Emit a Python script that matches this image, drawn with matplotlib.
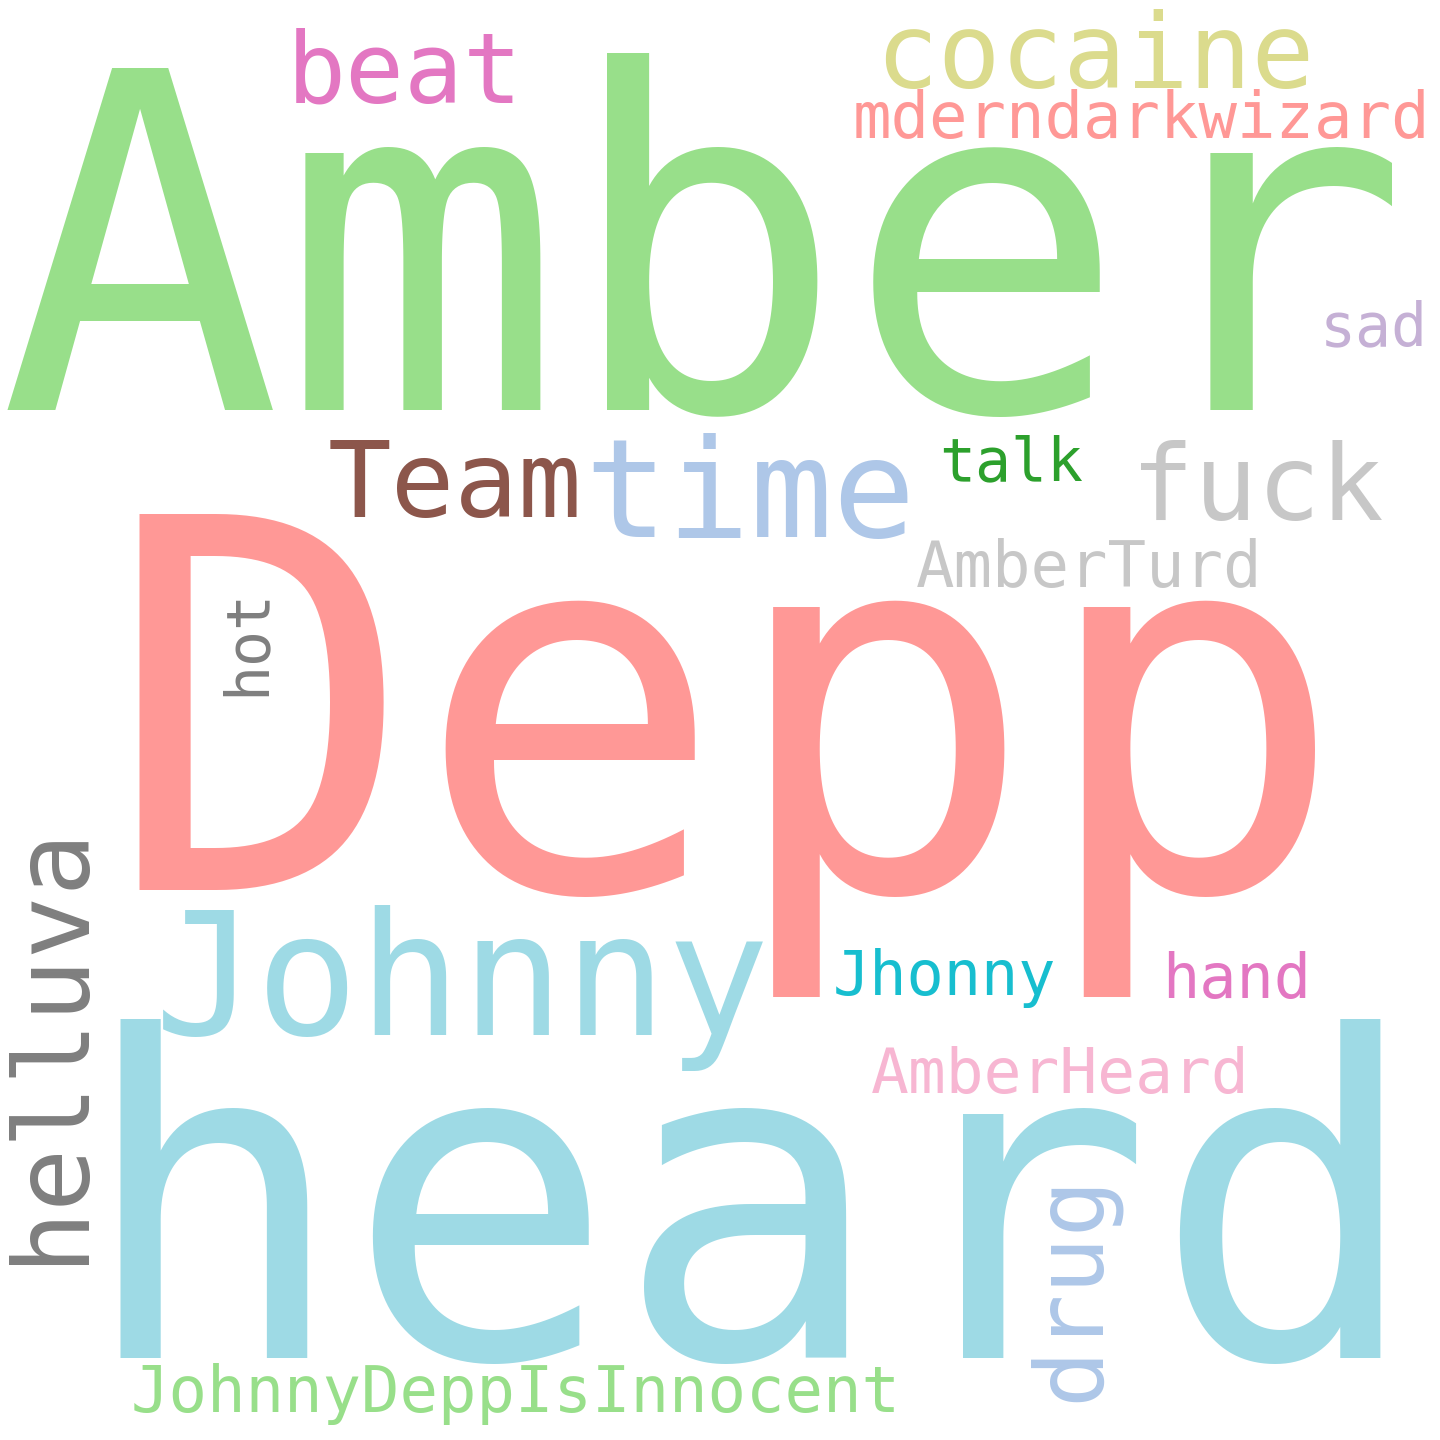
import matplotlib
matplotlib.use("Agg")
import matplotlib.pyplot as plt

# word cloud data: words, relative weight (1.0 = biggest word), colour
words = ["Depp", "Amber", "heard", "Johnny", "time", "Team", "fuck", "helluva",
         "cocaine", "beat", "drug", "AmberHeard", "JohnnyDeppIsInnocent",
         "mderndarkwizard", "AmberTurd", "Jhonny", "hand", "sad", "talk", "hot"]
weights = [1.0, 0.909, 0.866, 0.331, 0.267, 0.205, 0.203, 0.203,
           0.202, 0.19, 0.184, 0.122, 0.124,
           0.124, 0.124, 0.12, 0.12, 0.116, 0.116, 0.116]
colors = ["#ff9896", "#98df8a", "#9edae5", "#9edae5", "#aec7e8", "#8c564b", "#c7c7c7", "#7f7f7f",
          "#dbdb8d", "#e377c2", "#aec7e8", "#f7b6d2", "#98df8a",
          "#ff9896", "#c7c7c7", "#17becf", "#e377c2", "#c5b0d5", "#2ca02c", "#7f7f7f"]

# layout: centre x, baseline y (pixels from top-left), rotation
layout = {
    "Depp": (726, 890, 0),
    "Amber": (704, 410, 0),
    "heard": (750, 1358, 0),
    "Johnny": (462, 1035, 0),
    "time": (750, 537, 0),
    "Team": (455, 517, 0),
    "fuck": (1257, 520, 0),
    "helluva": (80, 1043, 90),
    "cocaine": (1095, 88, 0),
    "beat": (405, 103, 0),
    "drug": (1098, 1287, 90),
    "AmberHeard": (1060, 1093, 0),
    "JohnnyDeppIsInnocent": (516, 1412, 0),
    "mderndarkwizard": (1141, 138, 0),
    "AmberTurd": (1089, 587, 0),
    "Jhonny": (944, 995, 0),
    "hand": (1237, 998, 0),
    "sad": (1374, 345, 0),
    "talk": (1011, 480, 0),
    "hot": (264, 642, 90),
}

W = H = 1440
DPI = 100
max_font_px = 516

fig = plt.figure(figsize=(W / DPI, H / DPI), dpi=DPI, facecolor="white")
ax = fig.add_axes([0, 0, 1, 1])
ax.set_xlim(0, W)
ax.set_ylim(H, 0)
ax.axis("off")

for w, wt, c in zip(words, weights, colors):
    x, y, rot = layout[w]
    size_pt = wt * max_font_px * 72 / DPI
    if rot == 0:
        ax.text(x, y, w, fontsize=size_pt, color=c, family="DejaVu Sans Mono",
                ha="center", va="baseline")
    else:
        ax.text(x, y, w, fontsize=size_pt, color=c, family="DejaVu Sans Mono",
                ha="center", va="baseline", rotation=rot, rotation_mode="anchor")

fig.savefig("out.png", dpi=DPI, facecolor="white")
